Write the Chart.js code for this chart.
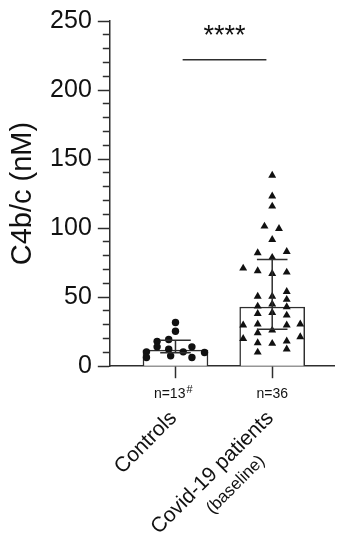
<!DOCTYPE html>
<html>
<head>
<meta charset="utf-8">
<script src="https://cdn.jsdelivr.net/npm/chart.js@4.4.0/dist/chart.umd.min.js"></script>
<style>
  html, body { margin: 0; padding: 0; background: #fff; }
  .chart-box { width: 339px; height: 537px; }
</style>
</head>
<body>
<div class="chart-box"><canvas id="c4_chart"></canvas></div>
<script>
// groups and per-group summary
const groups = [["Controls"], ["Covid-19 patients", "(baseline)"]];
const nLabels = ["n=13", "n=36"];
const nNotes = ["#", ""];
const medians = [11.6, 42.9];
const spreadLow = [9.7, 26.8];
const spreadHigh = [18.8, 77.2];

// individual measurements (nM) with horizontal jitter around the group centre
const controlsValues = [31.6, 25.3, 19.3, 18.0, 14.0, 12.3, 7.5, 10.4, 6.3, 10.4, 14.0, 6.3, 9.9];
const controlsJitter = [0, 0, -0.07, -0.19, -0.19, -0.07, -0.05, -0.30, -0.30, 0.08, 0.17, 0.17, 0.30];

const covidValues = [138.2, 123.2, 115.8, 101.3, 99.6, 91.7, 82.0, 83.0, 78.7, 70.9, 69.0, 67.0, 68.0,
  50.6, 50.6, 54.0, 48.3, 43.4, 44.9, 42.9, 38.1, 38.8, 36.9, 29.7, 30.4, 29.7, 30.4, 26.0, 24.1,
  20.0, 21.2, 18.1, 16.9, 16.4, 12.3, 10.1];
const covidJitter = [0, 0, 0, -0.08, 0.07, 0, -0.15, 0.15, 0, -0.30, -0.15, 0, 0.15,
  -0.15, 0, 0.15, 0.15, -0.15, 0, 0.15, -0.15, 0, 0.15, -0.30, -0.15, 0.15, 0.29, 0, -0.15,
  -0.30, 0.29, 0.15, -0.15, 0, 0.15, -0.15];

const yLabelled = [0, 50, 100, 150, 200, 250];

// significance bracket
const sigFrom = 0.074;
const sigTo = 0.94;
const sigValue = 222;
const sigText = "****";

const ink = "#111";
const axisInk = "#2e2e2e";
const family = "'Liberation Sans', Arial, Helvetica, sans-serif";
const notePad = "   ";
const capHalf = 0.158;

const toPoints = (centre, jitter, values) =>
  values.map((v, i) => ({ x: centre + jitter[i], y: v }));

const lineSet = (points) => ({
  type: "line",
  data: points,
  borderColor: axisInk,
  borderWidth: 1.5,
  pointRadius: 0,
  fill: false,
  order: 0,
});

const whiskers = [];
medians.forEach((m, i) => {
  whiskers.push(lineSet([{ x: i, y: spreadLow[i] }, { x: i, y: spreadHigh[i] }]));
  whiskers.push(lineSet([{ x: i - capHalf, y: spreadLow[i] }, { x: i + capHalf, y: spreadLow[i] }]));
  whiskers.push(lineSet([{ x: i - capHalf, y: spreadHigh[i] }, { x: i + capHalf, y: spreadHigh[i] }]));
});

const groupLabels = {
  id: "groupLabels",
  afterDraw(chart) {
    const { ctx } = chart;
    const { x, y } = chart.scales;
    const rowY = x.top + 12 + 8 + (14 * 1.2) / 2;
    ctx.save();
    ctx.fillStyle = ink;

    // superscript note after an n= label
    nNotes.forEach((note, i) => {
      if (!note) return;
      ctx.font = `14px ${family}`;
      const full = ctx.measureText(nLabels[i] + notePad).width;
      const plain = ctx.measureText(nLabels[i]).width;
      const px = x.getPixelForValue(i) - full / 2 + plain + 1;
      ctx.font = `11px ${family}`;
      ctx.textAlign = "left";
      ctx.textBaseline = "alphabetic";
      ctx.fillText(note, px, rowY - 1.5);
    });

    // slanted group names
    groups.forEach((lines, i) => {
      ctx.save();
      ctx.translate(x.getPixelForValue(i) - 2, x.bottom + 4);
      ctx.rotate(-Math.PI / 4);
      ctx.textBaseline = "middle";
      ctx.font = `21px ${family}`;
      ctx.textAlign = "right";
      ctx.fillText(lines[0], 0, 0);
      if (lines[1]) {
        const w = ctx.measureText(lines[0]).width;
        ctx.font = `17px ${family}`;
        ctx.textAlign = "center";
        ctx.fillText(lines[1], -w / 2 + 8, 25);
      }
      ctx.restore();
    });

    // stars over the bracket
    ctx.font = `27px ${family}`;
    ctx.textAlign = "center";
    ctx.textBaseline = "alphabetic";
    ctx.fillText(sigText, x.getPixelForValue((sigFrom + sigTo) / 2), y.getPixelForValue(sigValue) - 16);
    ctx.restore();
  },
};

const ctx = document.getElementById("c4_chart").getContext("2d");

const configuration = {
  type: "bar",
  data: {
    datasets: [
      {
        type: "scatter",
        data: toPoints(0, controlsJitter, controlsValues),
        pointStyle: "circle",
        pointRadius: 3.7,
        backgroundColor: ink,
        borderColor: ink,
        borderWidth: 0,
        order: 1,
      },
      {
        type: "scatter",
        data: toPoints(1, covidJitter, covidValues),
        pointStyle: "triangle",
        pointRadius: 4.6,
        backgroundColor: ink,
        borderColor: ink,
        borderWidth: 0,
        order: 1,
      },
      ...whiskers,
      lineSet([{ x: sigFrom, y: sigValue }, { x: sigTo, y: sigValue }]),
      {
        type: "bar",
        data: medians.map((m, i) => ({ x: i, y: m })),
        backgroundColor: "#fff",
        borderColor: axisInk,
        borderWidth: 1.5,
        barThickness: 65,
        order: 2,
      },
    ],
  },
  options: {
    responsive: true,
    maintainAspectRatio: false,
    animation: false,
    layout: { padding: { top: 20, left: 2, right: 1, bottom: 126 } },
    plugins: {
      legend: { display: false },
      tooltip: { enabled: false },
    },
    scales: {
      x: {
        type: "linear",
        min: -0.679,
        max: 1.643,
        offset: false,
        grid: {
          display: true,
          drawOnChartArea: false,
          offset: false,
          tickLength: 12,
          tickColor: axisInk,
          tickWidth: 1.5,
        },
        border: { color: axisInk, width: 1.5 },
        afterBuildTicks: (axis) => {
          axis.ticks = nLabels.map((_, i) => ({ value: i }));
        },
        ticks: {
          autoSkip: false,
          maxRotation: 0,
          padding: 8,
          color: ink,
          font: { family: family, size: 14 },
          callback: (v) => nLabels[v] + (nNotes[v] ? notePad : ""),
        },
      },
      y: {
        min: 0,
        max: 250,
        grid: {
          display: true,
          drawOnChartArea: false,
          tickLength: 12,
          tickColor: axisInk,
          tickWidth: 1.5,
          // minor ticks: only the inner part of the tick is stroked
          tickBorderDash: (c) => (c.tick && c.tick.value % 50 === 0 ? [] : [0, 5, 7, 0]),
        },
        border: { color: axisInk, width: 1.5 },
        ticks: {
          stepSize: 10,
          autoSkip: false,
          padding: 6,
          color: ink,
          font: { family: family, size: 25 },
          callback: (v) => (yLabelled.includes(v) ? v : ""),
        },
        title: {
          display: true,
          text: "C4b/c (nM)",
          color: ink,
          font: { family: family, size: 29 },
          padding: { top: 4, bottom: 3.3 },
        },
      },
    },
  },
  plugins: [groupLabels],
};

new Chart(ctx, configuration);
</script>
</body>
</html>
